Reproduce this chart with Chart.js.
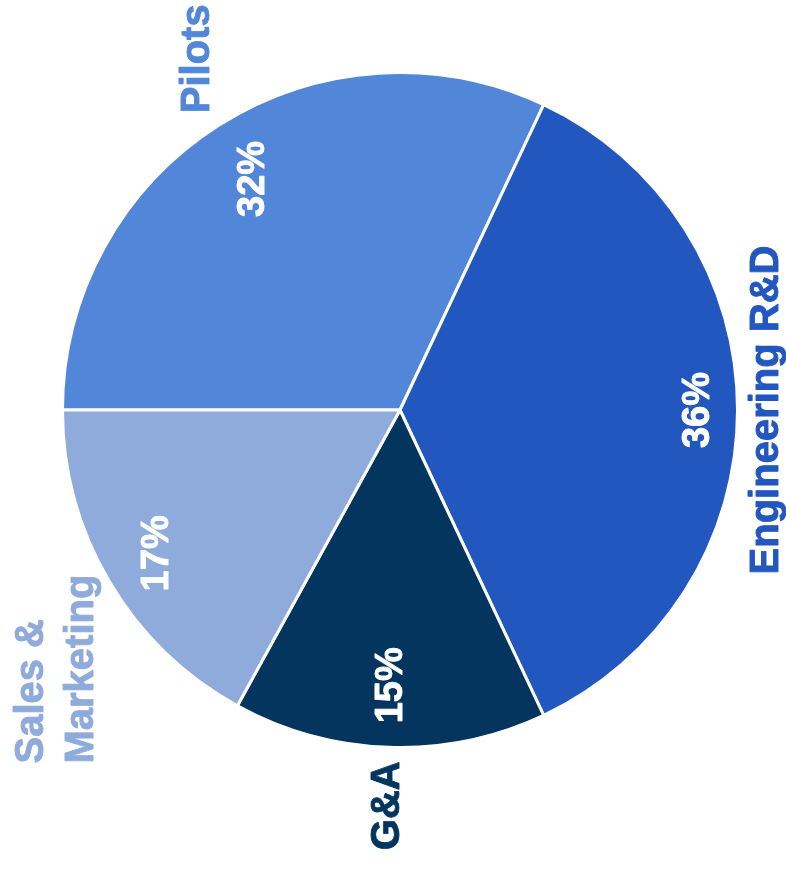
<!DOCTYPE html>
<html>
<head>
<meta charset="utf-8">
<script src="https://cdn.jsdelivr.net/npm/chart.js@4"></script>
<style>
  html, body { margin: 0; padding: 0; background: #ffffff; }
  #wrap { width: 786px; height: 871px; }
</style>
</head>
<body>
<div id="wrap"><canvas id="pieChart"></canvas></div>
<script>
// slice order runs clockwise starting from the left edge
var categories = ['Pilots', 'Engineering R&D', 'G&A', ['Sales &', 'Marketing']];
var shares = [32, 36, 15, 17];
var sliceColors = ['#5286d8', '#2257c0', '#03355e', '#8fabdc'];

var labelFont = '"Liberation Sans", Arial, Helvetica, sans-serif';

// draws text turned a quarter turn, reading bottom to top
function drawTurned(ctx, lines, cx, cy, color, size, lineH){
    ctx.save();
    ctx.translate(cx, cy);
    ctx.rotate(-Math.PI / 2);
    ctx.font = 'bold ' + size + 'px ' + labelFont;
    ctx.fillStyle = color;
    ctx.strokeStyle = color;
    ctx.lineWidth = 0.9;
    ctx.lineJoin = 'round';
    ctx.textBaseline = 'middle';
    ctx.textAlign = 'left';
    var w = 0;
    for (var i = 0; i < lines.length; i++) {
        w = Math.max(w, ctx.measureText(lines[i]).width);
    }
    for (var i = 0; i < lines.length; i++) {
        var y = (i - (lines.length - 1) / 2) * lineH;
        ctx.fillText(lines[i], -w / 2, y);
        ctx.strokeText(lines[i], -w / 2, y); // a bit heavier, like the original
    }
    ctx.restore();
}

function blockWidth(ctx, lines, size){
    ctx.save();
    ctx.font = 'bold ' + size + 'px ' + labelFont;
    var w = 0;
    for (var i = 0; i < lines.length; i++) {
        w = Math.max(w, ctx.measureText(lines[i]).width);
    }
    ctx.restore();
    return w;
}

// soft sign, so labels near an axis stay centred on it
function side(u){
    return Math.max(-1, Math.min(1, u / 0.6));
}

var sliceLabels = {
    id: 'sliceLabels',
    afterDatasetsDraw: function(chart){
        var ctx = chart.ctx;
        var meta = chart.getDatasetMeta(0);
        var total = shares.reduce(function(a, b){ return a + b; }, 0);
        meta.data.forEach(function(arc, i){
            var p = arc.getProps(['x', 'y', 'startAngle', 'endAngle', 'outerRadius'], true);
            var mid = (p.startAngle + p.endAngle) / 2;
            var ux = Math.cos(mid), uy = Math.sin(mid);
            var ax = Math.abs(ux), ay = Math.abs(uy);

            // percentage inside the slice
            var pct = [Math.round(shares[i] / total * 100) + '%'];
            var pw = blockWidth(ctx, pct, 38);
            var d = p.outerRadius * 0.93 - (15 * ax + pw / 2 * ay);
            drawTurned(ctx, pct, p.x + ux * d, p.y + uy * d, '#ffffff', 38, 48);

            // category name outside the pie
            var lines = Array.isArray(categories[i]) ? categories[i] : [categories[i]];
            var lw = blockWidth(ctx, lines, 40);
            var hw = ((lines.length - 1) * 50 + 30) / 2;
            var r2 = p.outerRadius + 14;
            var cx = p.x + ux * r2 + hw * side(ux);
            var cy = p.y + uy * r2 + lw / 2 * side(uy);
            drawTurned(ctx, lines, cx, cy, sliceColors[i], 40, 50);
        });
    }
};

var ctx = document.getElementById('pieChart').getContext('2d');
var chart = new Chart(ctx, {
    type: 'pie',
    data: {
        labels: categories,
        datasets: [{
            data: shares,
            backgroundColor: sliceColors,
            borderColor: '#ffffff',
            borderWidth: 3
        }]
    },
    options: {
        responsive: true,
        maintainAspectRatio: false,
        animation: false,
        rotation: 270,
        layout: {
            padding: { left: 61, right: 47, top: 71, bottom: 122 }
        },
        plugins: {
            legend: { display: false },
            tooltip: { enabled: false }
        }
    },
    plugins: [sliceLabels]
});
</script>
</body>
</html>
